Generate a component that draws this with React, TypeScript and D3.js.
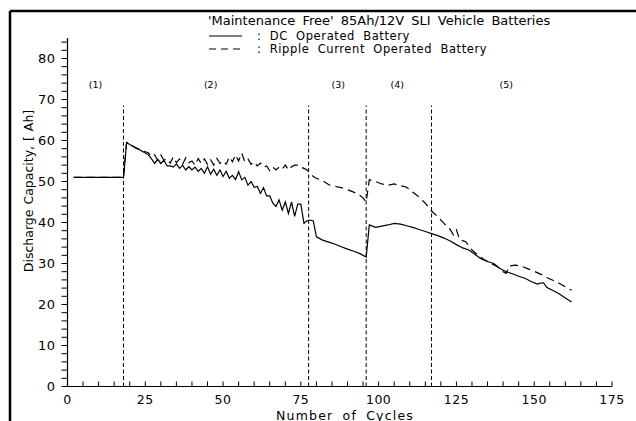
import React from "react";
import * as d3 from "d3";

const dcCycles = [2, 18, 19, 20, 22, 24, 26, 27, 28, 29, 30, 31, 32, 33, 34, 35, 36, 37, 38, 39, 40, 41, 42, 43, 44, 45, 46, 47, 48, 49, 50, 51, 52, 53, 54, 55, 56, 57, 58, 59, 60, 61, 62, 63, 64, 65, 66, 67, 68, 69, 70, 71, 72, 73, 74, 75, 76, 77, 78, 79, 80, 82, 84, 86, 88, 90, 92, 94, 96, 97, 99, 101, 103, 105, 107, 109, 111, 113, 115, 117, 119, 121, 123, 125, 127, 129, 131, 133, 135, 137, 139, 141, 143, 145, 147, 149, 151, 152, 153, 154, 156, 158, 160, 162];
const dcValues = [51, 51, 59.5, 59, 58.2, 57.4, 56.5, 55.5, 54.4, 55.4, 54.4, 55.2, 53.8, 53.8, 53.5, 54.3, 53.2, 54, 52.8, 53.6, 52.8, 53.5, 52.5, 53.2, 52, 53.6, 51.8, 53, 51.5, 52.8, 51.2, 52.5, 50.8, 51.5, 50.5, 52.4, 50.4, 51, 49.1, 50, 48.6, 48.8, 47.1, 48.5, 46.5, 46.5, 44.7, 43.9, 45.5, 43, 45, 42.2, 45, 41.5, 44.5, 44.5, 39.8, 40.4, 40.6, 40.4, 36.5, 35.7, 35.2, 34.7, 34.1, 33.5, 33, 32.4, 31.6, 39.4, 38.8, 39.1, 39.4, 39.8, 39.6, 39.2, 38.8, 38.3, 37.8, 37.3, 36.8, 36.2, 35.5, 34.6, 33.8, 33.3, 32.2, 31.1, 30.5, 30, 28.8, 28, 27.5, 26.9, 26.4, 25.6, 25, 25.2, 25.3, 24.2, 23.4, 22.6, 21.6, 20.6];

const rcCycles = [2, 18, 19, 20, 22, 24, 26, 27, 28, 29, 30, 31, 32, 33, 34, 35, 36, 37, 38, 39, 40, 41, 42, 43, 44, 45, 46, 47, 48, 49, 50, 51, 52, 53, 54, 55, 56, 57, 58, 59, 60, 61, 62, 63, 64, 65, 66, 67, 68, 69, 70, 71, 72, 73, 74, 75, 76, 77, 78, 79, 80, 82, 84, 86, 88, 90, 92, 94, 95, 96, 97, 99, 101, 103, 105, 107, 109, 111, 113, 115, 117, 119, 121, 123, 124, 125, 126, 128, 130, 132, 134, 136, 138, 140, 141, 142, 144, 146, 148, 150, 152, 154, 156, 158, 160, 162];
const rcValues = [51, 51, 59.5, 59, 58.2, 57.5, 57, 56, 56.5, 55.2, 56.5, 55.2, 55.5, 54.5, 56, 54.6, 55.5, 54.2, 55.8, 54.6, 55, 54, 55.6, 54.4, 55.5, 54.2, 55.3, 54, 55.6, 54.4, 55, 54.2, 56, 54.8, 56.5, 55, 56.9, 54.8, 55.5, 54.2, 54.8, 53.8, 54.5, 53.5, 53.8, 52.6, 53.5, 52.8, 53.5, 53, 54, 52.8, 53.6, 54, 54, 53.5, 53.2, 52.8, 52, 51.2, 50.8, 50.2, 49.2, 48.8, 48.5, 48, 47.4, 46.6, 46, 45, 50.4, 50, 49.4, 49.1, 49.4, 49, 48.6, 47.4, 46.2, 44.7, 42.8, 41.4, 39.8, 38.3, 37, 38.2, 35.8, 35.3, 33.3, 32, 30.9, 30, 29.3, 28, 27.6, 29.4, 29.6, 29.3, 28.7, 28.1, 27.4, 26.6, 25.9, 25.2, 24.3, 23.5];

const phaseBoundaries = [18, 77.5, 96, 117];
const phaseLabels = ["(1)", "(2)", "(3)", "(4)", "(5)"];
const phaseLabelCycles = [9, 46, 87, 106, 141];

const xTickValues = d3.range(0, 176, 5);
const xLabelValues = [0, 25, 50, 75, 100, 125, 150, 175];
const yTickValues = d3.range(0, 85, 2);
const yLabelValues = [0, 10, 20, 30, 40, 50, 60, 70, 80];

const title = "'Maintenance Free' 85Ah/12V SLI Vehicle Batteries";
const legendItems = [": DC Operated Battery", ": Ripple Current Operated Battery"];
const xTitle = "Number of Cycles";
const yTitle = "Discharge Capacity, [ Ah]";

export default function App() {
  const W = 636, H = 421;
  const x0 = 67.5, x1 = 612, yBottom = 386.5;
  const x = d3.scaleLinear().domain([0, 175]).range([x0, x1]);
  const y = d3.scaleLinear().domain([0, 80]).range([yBottom, 58.5]);
  const font = "'DejaVu Sans', sans-serif";

  const line = d3.line<[number, number]>().x(d => x(d[0])).y(d => y(d[1]));
  const dcPath = line(dcCycles.map((c, i) => [c, dcValues[i]]));
  const rcPath = line(rcCycles.map((c, i) => [c, rcValues[i]]));

  return (
    <svg width={W} height={H} style={{ position: "absolute", left: 0, top: 0, background: "#fff" }} fontFamily={font}>
      {/* frame */}
      <line x1={10} y1={11} x2={10} y2={H} stroke="#000" strokeWidth={2.5} />
      <line x1={10} y1={11} x2={W} y2={11} stroke="#000" strokeWidth={2.5} />

      {/* title & legend */}
      <text x={208} y={25} fontSize={13} fill="#000" style={{ wordSpacing: "3px" }}>{title}</text>
      <line x1={209} x2={242} y1={36} y2={36} stroke="#000" strokeWidth={1.2} />
      <line x1={209} x2={242} y1={49} y2={49} stroke="#000" strokeWidth={1.2} strokeDasharray="7,5" />
      <text x={257} y={40} fontSize={11.5} letterSpacing={0.6} fill="#000" style={{ wordSpacing: "4px" }}>{legendItems[0]}</text>
      <text x={257} y={53} fontSize={11.5} letterSpacing={0.6} fill="#000" style={{ wordSpacing: "4px" }}>{legendItems[1]}</text>

      {/* y axis */}
      <line x1={x0} x2={x0} y1={y(85)} y2={yBottom} stroke="#000" strokeWidth={1.2} />
      {yTickValues.map(v => (
        <line key={"yt" + v} x1={x0 - 6} x2={x0} y1={y(v)} y2={y(v)} stroke="#000" strokeWidth={1} />
      ))}
      {yLabelValues.map(v => (
        <text key={"yl" + v} x={x0 - 12} y={y(v) + 4.5} fontSize={13} letterSpacing={0.5} textAnchor="end" fill="#000">{v}</text>
      ))}

      {/* x axis */}
      <line x1={x0} x2={x1} y1={yBottom} y2={yBottom} stroke="#000" strokeWidth={1.2} />
      {xTickValues.map(v => (
        <line key={"xt" + v} x1={x(v)} x2={x(v)} y1={yBottom - 5} y2={yBottom} stroke="#000" strokeWidth={1} />
      ))}
      {xLabelValues.map(v => (
        <text key={"xl" + v} x={x(v)} y={yBottom + 17} fontSize={12.5} letterSpacing={0.5} textAnchor="middle" fill="#000">{v}</text>
      ))}

      <text x={345} y={419.5} fontSize={12.5} letterSpacing={1.2} textAnchor="middle" fill="#000" style={{ wordSpacing: "4px" }}>{xTitle}</text>
      <text transform={`translate(33, 191) rotate(-90)`} fontSize={12.5} textAnchor="middle" fill="#000" style={{ wordSpacing: "1px" }}>{yTitle}</text>

      {/* phase boundaries */}
      {phaseBoundaries.map(c => (
        <line key={"pb" + c} x1={x(c)} x2={x(c)} y1={yBottom} y2={y(68.5)} stroke="#000" strokeWidth={1} strokeDasharray="4,2.5" />
      ))}
      {phaseLabels.map((l, i) => (
        <text key={l} x={x(phaseLabelCycles[i])} y={y(73.5) + 3} fontSize={9.5} textAnchor="middle" fill="#000">{l}</text>
      ))}

      {/* data */}
      <path d={rcPath || ""} fill="none" stroke="#000" strokeWidth={1.2} strokeDasharray="8,5" />
      <path d={dcPath || ""} fill="none" stroke="#000" strokeWidth={1.2} />
    </svg>
  );
}
